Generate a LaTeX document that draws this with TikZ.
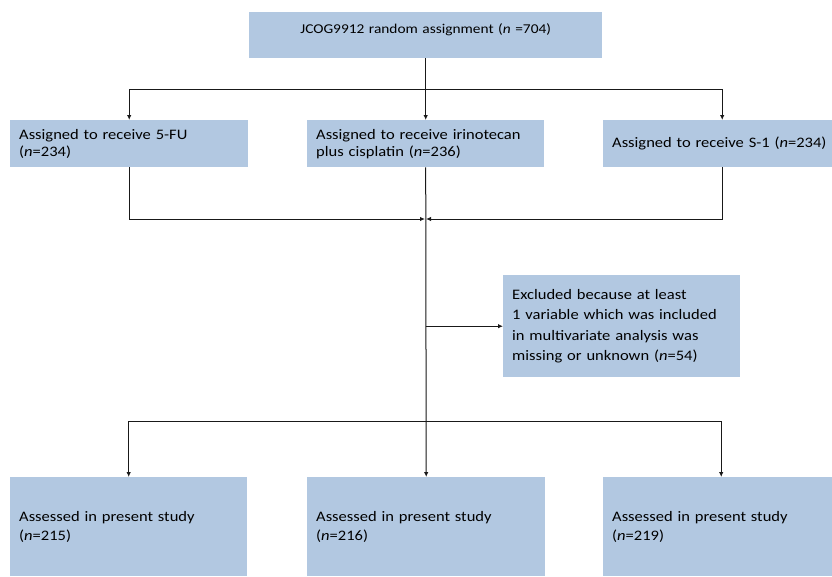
\documentclass[tikz,border=0pt]{standalone}
\usepackage{fontspec}
\setmainfont[FakeStretch=1.14]{Carlito}
\usetikzlibrary{positioning}
\usetikzlibrary{arrows.meta}
\definecolor{boxblue}{RGB}{178,200,225}

\tikzset{
	box/.style={fill=boxblue,anchor=north west,inner xsep=9pt,inner ysep=0pt,align=left,font=\fontsize{14.5}{17}\selectfont},
	link/.style={black!90,line width=1pt},
	arr/.style={link,-{Latex[length=5pt,width=4.5pt]}}
}

\begin{document}
\begin{tikzpicture}[x=1pt,y=-1pt]
			%page
			\fill[white] (0,0) rectangle (832,576);
			\useasboundingbox (0,0) rectangle (832,576);
			%random assignment
			\node[box,align=center,text width=335pt,minimum height=46pt,text depth=14pt,font=\fontsize{13.5}{17}\selectfont] (rand) at (249,12) {JCOG9912 random assignment (\textit{n} =704)};
			%three arms
			\node[box,text width=220pt,minimum height=47pt] (fu) at (10,120) {Assigned to receive 5-FU\\(\textit{n}=234)};
			\node[box,text width=219pt,minimum height=47pt] (ip) at (307,120) {Assigned to receive irinotecan\\plus cisplatin (\textit{n}=236)};
			\node[box,text width=222pt,minimum height=47pt] (s1) at (603,120) {Assigned to receive S-1 (\textit{n}=234)};
			%excluded
			\node[box,text width=219pt,minimum height=102pt,font=\fontsize{14.5}{20.5}\selectfont] (excl) at (503,275) {Excluded because at least\\1 variable which was included\\in multivariate analysis was\\missing or unknown (\textit{n}=54)};
			%assessed
			\node[box,text width=219pt,minimum height=99pt,font=\fontsize{14.5}{19}\selectfont] (a215) at (10,477) {Assessed in present study\\(\textit{n}=215)};
			\node[box,text width=220pt,minimum height=99pt,font=\fontsize{14.5}{19}\selectfont] (a216) at (307,477) {Assessed in present study\\(\textit{n}=216)};
			\node[box,text width=211pt,minimum height=99pt,font=\fontsize{14.5}{19}\selectfont] (a219) at (603,477) {Assessed in present study\\(\textit{n}=219)};
			%split into arms
			\coordinate (split) at (425.5,89);
			\draw[arr] (rand.south) -- (ip.north);
			\draw[arr] (split) -| (fu.north);
			\draw[arr] (split) -| ([xshift=-1pt]s1.north);
			%arms join again
			\coordinate (join) at (425.5,219);
			\draw[arr] (fu.south) |- ([xshift=-0.5pt]join);
			\draw[arr] ([xshift=-1pt]s1.south) |- ([xshift=0.5pt]join);
			\draw[arr] (ip.south) -- (a216.north);
			\draw[arr] (ip.south |- excl.west) -- (excl.west);
			%split into assessed
			\coordinate (split2) at (425.5,421);
			\draw[arr] (split2) -| (a215.north);
			\draw[arr] (split2) -| ([xshift=3.5pt]a219.north);
\end{tikzpicture}
\end{document}
